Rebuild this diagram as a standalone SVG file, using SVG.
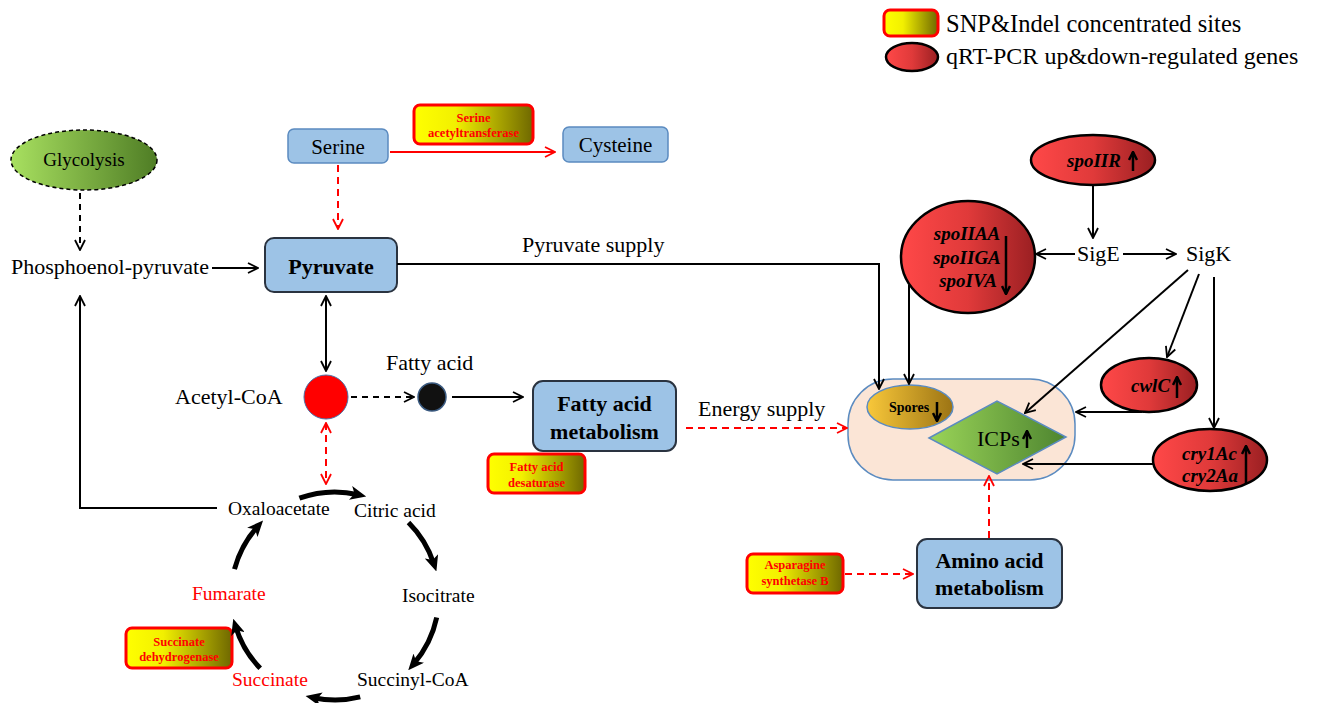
<svg xmlns="http://www.w3.org/2000/svg" width="1324" height="703" viewBox="0 0 1324 703">
<defs>
<linearGradient id="gY" x1="0" x2="1" y1="0" y2="0"><stop offset="0" stop-color="#ffff00"/><stop offset="0.35" stop-color="#f2f000"/><stop offset="1" stop-color="#6f6800"/></linearGradient>
<linearGradient id="gR" x1="0" x2="1" y1="0" y2="0"><stop offset="0" stop-color="#ff4848"/><stop offset="0.5" stop-color="#e03a3a"/><stop offset="1" stop-color="#9a1f22"/></linearGradient>
<linearGradient id="gG" x1="0" x2="1" y1="0" y2="0"><stop offset="0" stop-color="#a8e060"/><stop offset="1" stop-color="#4f7d25"/></linearGradient>
<linearGradient id="gD" x1="0" x2="1" y1="0" y2="0"><stop offset="0" stop-color="#9ad458"/><stop offset="1" stop-color="#4e8530"/></linearGradient>
<linearGradient id="gS" x1="0" x2="1" y1="0" y2="0"><stop offset="0" stop-color="#f9c83a"/><stop offset="1" stop-color="#9c7414"/></linearGradient>
<marker id="ma" viewBox="0 0 12 12" refX="11" refY="6" markerWidth="12" markerHeight="12" markerUnits="userSpaceOnUse" orient="auto-start-reverse"><path d="M1,1 L11,6 L1,11" fill="none" stroke="#000" stroke-width="1.8"/></marker>
<marker id="mr" viewBox="0 0 12 12" refX="11" refY="6" markerWidth="12" markerHeight="12" markerUnits="userSpaceOnUse" orient="auto-start-reverse"><path d="M1,1 L11,6 L1,11" fill="none" stroke="#ff0000" stroke-width="1.8"/></marker>
<marker id="ms" viewBox="0 0 10 10" refX="9" refY="5" markerWidth="10" markerHeight="10" markerUnits="userSpaceOnUse" orient="auto"><path d="M1,1 L9,5 L1,9" fill="none" stroke="#000" stroke-width="2.5"/></marker>
<marker id="mt" viewBox="0 0 16 14" refX="8" refY="7" markerWidth="16" markerHeight="14" markerUnits="userSpaceOnUse" orient="auto"><path d="M0,0 L16,7 L0,14 L4,7 z" fill="#000"/></marker>
</defs>
<style>
text{font-family:"Liberation Serif","Times New Roman",serif;fill:#000}
.t22{font-size:22px}
.t19{font-size:19.5px}
.c{text-anchor:middle}
.b{font-weight:bold}
.bl{fill:#9dc3e6;stroke:#2a3340;stroke-width:2}
.bs{fill:#9dc3e6;stroke:#5b8bc0;stroke-width:1.5}
.yb{fill:url(#gY);stroke:#ff0000;stroke-width:3}
.en{font-size:12.5px;font-weight:bold;fill:#ff0000;text-anchor:middle}
.re{fill:url(#gR);stroke:#000;stroke-width:2.5}
.gn{font-size:19px;font-weight:bold;font-style:italic}
.red{fill:#ff0000}
.k{stroke:#000;stroke-width:2;fill:none;marker-end:url(#ma)}
.kk{marker-start:url(#ma)}
.kd{stroke-dasharray:6 5}
.r{stroke:#ff0000;stroke-width:2;fill:none;marker-end:url(#mr)}
.rr{marker-start:url(#mr)}
.rd{stroke-dasharray:7 5}
.sa{stroke:#000;stroke-width:2.5;fill:none;marker-end:url(#ms)}
.tca{stroke:#000;stroke-width:5;fill:none;marker-end:url(#mt)}
</style>

<g id="legend">
<rect class="yb" x="884" y="10" width="54" height="26" rx="6"/>
<text x="946" y="32" font-size="24.5">SNP&amp;Indel concentrated sites</text>
<ellipse class="re" cx="912" cy="57" rx="26" ry="14"/>
<text x="946" y="64" font-size="24">qRT-PCR up&amp;down-regulated genes</text>
</g>

<g id="glycolysis">
<ellipse cx="84" cy="160" rx="73" ry="30" fill="url(#gG)" stroke="#000" stroke-width="1.5" stroke-dasharray="4 3"/>
<text class="c" x="84" y="166" font-size="19">Glycolysis</text>
</g>
<g id="pep"><text class="t22" x="11" y="274">Phosphoenol-pyruvate</text></g>
<g id="pyruvate"><rect class="bl" x="265" y="238" width="132" height="54" rx="9"/><text class="t22 b c" x="331" y="274">Pyruvate</text></g>
<g id="serine"><rect class="bs" x="288" y="129" width="100" height="34" rx="6"/><text class="c" font-size="21" x="338" y="154">Serine</text></g>
<g id="cysteine"><rect class="bs" x="563" y="127" width="105" height="35" rx="6"/><text class="c" font-size="21" x="615.5" y="152">Cysteine</text></g>
<g id="serine-acetyltransferase"><rect class="yb" x="414" y="105" width="119" height="39" rx="6"/><text class="en" x="473.5" y="122">Serine</text><text class="en" x="473.5" y="137">acetyltransferase</text></g>
<g id="acetyl-coa"><circle cx="326" cy="397" r="22" fill="#ff0000" stroke="#4a6fa5" stroke-width="1"/><text class="t22" x="175" y="404">Acetyl-CoA</text></g>
<g id="fatty-acid"><circle cx="432" cy="397" r="14" fill="#111" stroke="#3a5a80" stroke-width="1.5"/><text class="t22" x="386" y="370">Fatty acid</text></g>
<g id="fatty-acid-metabolism"><rect class="bl" x="533" y="381" width="143" height="70" rx="10"/><text class="t22 b c" x="604.5" y="411">Fatty acid</text><text class="t22 b c" x="604.5" y="439">metabolism</text></g>
<g id="fatty-acid-desaturase"><rect class="yb" x="488" y="454" width="97" height="39" rx="6"/><text class="en" x="536.5" y="471">Fatty acid</text><text class="en" x="536.5" y="487">desaturase</text></g>

<g id="oxaloacetate"><text class="t19" x="228" y="515">Oxaloacetate</text></g>
<g id="citric-acid"><text class="t19" x="354" y="517">Citric acid</text></g>
<g id="isocitrate"><text class="t19" x="402" y="602">Isocitrate</text></g>
<g id="succinyl-coa"><text class="t19" x="357" y="686">Succinyl-CoA</text></g>
<g id="succinate"><text class="t19 red" x="232" y="686">Succinate</text></g>
<g id="fumarate"><text class="t19 red" x="192" y="600">Fumarate</text></g>
<g id="succinate-dehydrogenase"><rect class="yb" x="126" y="628" width="106" height="40" rx="6"/><text class="en" x="179" y="646">Succinate</text><text class="en" x="179" y="661">dehydrogenase</text></g>

<g id="spoIIR"><ellipse class="re" cx="1093" cy="160" rx="62" ry="25"/><text class="gn" x="1067" y="167">spoIIR</text><path class="sa" d="M1133,171 L1133,152"/></g>
<g id="sigE"><text class="t22" x="1077" y="261">SigE</text></g>
<g id="sigK"><text class="t22" x="1186" y="261">SigK</text></g>
<g id="spoIIAA"><ellipse class="re" cx="968" cy="257" rx="67" ry="56"/><text class="gn c" x="967" y="240">spoIIAA</text><text class="gn c" x="967" y="264">spoIIGA</text><text class="gn c" x="968" y="287">spoIVA</text><path class="sa" d="M1006,236 L1006,294"/></g>
<g id="cwlC"><ellipse class="re" cx="1149" cy="385" rx="48" ry="27"/><text class="gn" x="1131" y="392">cwlC</text><path class="sa" d="M1177,398 L1177,377"/></g>
<g id="cry"><ellipse class="re" cx="1210" cy="460" rx="57" ry="31"/><text class="gn" x="1182" y="460">cry1Ac</text><text class="gn" x="1182" y="482">cry2Aa</text><path class="sa" d="M1246,484 L1246,446"/></g>
<g id="cell"><rect x="848" y="379" width="227" height="101" rx="45" fill="#fbe5d6" stroke="#5b8bc0" stroke-width="1.5"/></g>
<g id="spores"><ellipse cx="910" cy="407" rx="43" ry="22" fill="url(#gS)" stroke="#5b8bc0" stroke-width="1.5"/><text class="b" font-size="14" x="889" y="412">Spores</text><path class="sa" d="M937,402 L937,421"/></g>
<g id="icps"><polygon points="929,438 997,401 1066,437 997,474" fill="url(#gD)" stroke="#5b8bc0" stroke-width="1.5"/><text class="t22" x="977" y="446">ICPs</text><path class="sa" d="M1027,448 L1027,431"/></g>
<g id="amino-acid-metabolism"><rect class="bl" x="917" y="539" width="145" height="69" rx="10"/><text class="t22 b c" x="989.5" y="568">Amino acid</text><text class="t22 b c" x="989.5" y="595">metabolism</text></g>
<g id="asparagine-synthetase"><rect class="yb" x="747" y="554" width="96" height="39" rx="6"/><text class="en" x="795" y="569">Asparagine</text><text class="en" x="795" y="585">synthetase B</text></g>

<g id="connectors">
<path class="k kd" d="M80,193 L80,250"/>
<path class="k" d="M212,268 L258,268"/>
<path class="r rd" d="M338,165 L338,229"/>
<path class="r" d="M390,152 L555,152"/>
<path class="k kk" d="M326,296 L326,371"/>
<path class="k kd" d="M351,397 L414,397"/>
<path class="k" d="M452,397 L523,397"/>
<path class="r rr rd" d="M326,423 L326,484"/>
<path class="k" d="M217,508 L80,508 L80,296"/>
<path class="k" d="M397,264 L879,264 L879,389"/>
<path class="k" d="M909,285 L909,384"/>
<path class="r rd" d="M686,428 L847,428"/>
<path class="r rd" d="M845,574 L913,574"/>
<path class="r rd" d="M989,538 L989,476"/>
<path class="k" d="M1093,186 L1093,238"/>
<path class="k" d="M1075,254 L1036,254"/>
<path class="k" d="M1123,254 L1176,254"/>
<path class="k" d="M1188,270 L1025,413"/>
<path class="k" d="M1199,274 L1167,357"/>
<path class="k" d="M1214,277 L1214,428"/>
<path class="k" d="M1142,412 L1076,412"/>
<path class="k" d="M1154,464 L1023,464"/>
<path class="tca" d="M299.4,498.2 A104,104 0 0 1 358.4,494.7"/>
<path class="tca" d="M408.5,522.5 A104,104 0 0 1 433.9,563.9"/>
<path class="tca" d="M436.7,617.6 A104,104 0 0 1 413.5,664.2"/>
<path class="tca" d="M360.2,696.9 A104,104 0 0 1 313.4,697.7"/>
<path class="tca" d="M260.2,668.3 A104,104 0 0 1 235.6,626.4"/>
<path class="tca" d="M234.5,569.1 A104,104 0 0 1 257.7,526.4"/>
<text class="t22" x="522" y="252">Pyruvate supply</text>
<text class="t22" x="698" y="416">Energy supply</text>
</g>
</svg>
